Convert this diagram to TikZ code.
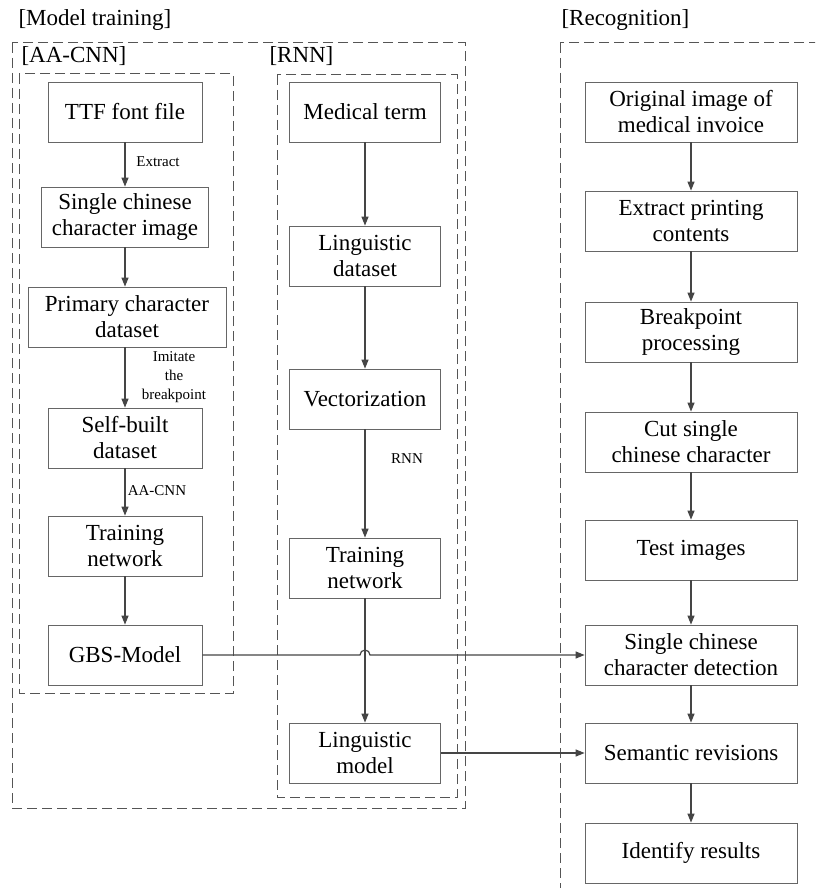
\documentclass[tikz,border=0pt]{standalone}
\usepackage{fontspec}
\setmainfont{Liberation Serif}
\usetikzlibrary{arrows.meta}
\definecolor{boxgray}{HTML}{666666}
\definecolor{dashgray}{HTML}{555555}
\definecolor{arrgray}{HTML}{454545}
\begin{document}
\begin{tikzpicture}[x=1pt,y=-1pt,
 box/.style={draw=boxgray, line width=0.8pt, minimum height=60pt, align=center, font=\fontsize{23}{26}\selectfont, inner sep=2pt},
 grp/.style={draw=dashgray, dash pattern=on 10pt off 5pt, line width=1pt},
 arr/.style={draw=arrgray, line width=1.2pt, -{Triangle[length=9pt,width=7pt]}},
 lbl/.style={font=\fontsize{15}{19}\selectfont, align=center, text=black},
 hdr/.style={font=\fontsize{23}{24}\selectfont, anchor=west}]
\useasboundingbox (0,0) rectangle (815,888);
\clip (0,0) rectangle (815,888);
% groups
\draw[grp] (12,43) rectangle (465,808);
\draw[grp] (19,74) rectangle (233,693);
\draw[grp] (277,75) rectangle (457,797);
\draw[grp] (560,43) rectangle (830,900);
\node[hdr] (hmt) at (15,20) {[Model training]};
\node[hdr] (hrec) at (558,20) {[Recognition]};
\node[hdr] (haa) at (18,56) {[AA-CNN]};
\node[hdr] (hrnn) at (266,56) {[RNN]};
% left column
\node[box, minimum width=154pt] (ttf) at (125,112) {TTF font file};
\node[box, minimum width=167pt] (single) at (125,217) {Single chinese\\character image};
\node[box, minimum width=198pt] (prim) at (127,317) {Primary character\\dataset};
\node[box, minimum width=154pt] (self) at (125,438) {Self-built\\dataset};
\node[box, minimum width=154pt] (trl) at (125,546) {Training\\network};
\node[box, minimum width=154pt] (gbs) at (125,655) {GBS-Model};
% middle column
\node[box, minimum width=151pt] (med) at (365,112) {Medical term};
\node[box, minimum width=151pt] (lds) at (365,256) {Linguistic\\dataset};
\node[box, minimum width=151pt] (vec) at (365,399) {Vectorization};
\node[box, minimum width=151pt] (trr) at (365,568) {Training\\network};
\node[box, minimum width=151pt] (lmod) at (365,753) {Linguistic\\model};
% right column
\node[box, minimum width=212pt] (orig) at (691,112) {Original image of\\medical invoice};
\node[box, minimum width=212pt] (extr) at (691,221) {Extract printing\\contents};
\node[box, minimum width=212pt] (brk) at (691,332) {Breakpoint\\processing};
\node[box, minimum width=212pt] (cut) at (691,442) {Cut single\\chinese character};
\node[box, minimum width=212pt] (test) at (691,550) {Test images};
\node[box, minimum width=212pt] (det) at (691,655) {Single chinese\\character detection};
\node[box, minimum width=212pt] (sem) at (691,753) {Semantic revisions};
\node[box, minimum width=212pt] (idr) at (691,853) {Identify results};
% arrows left
\draw[arr] (ttf) -- (single);
\draw[arr] (single) -- (prim.north -| single);
\draw[arr] (prim.south -| ttf) -- (self);
\draw[arr] (self) -- (trl);
\draw[arr] (trl) -- (gbs);
\node[lbl] (lex) at (158,162) {Extract};
\node[lbl] (lim) at (174,377) {Imitate\\the\\breakpoint};
\node[lbl] (laa) at (157,491) {AA-CNN};
% arrows middle
\draw[arr] (med) -- (lds);
\draw[arr] (lds) -- (vec);
\draw[arr] (vec) -- (trr);
\draw[arr] (trr) -- (lmod);
\node[lbl] (lrnn) at (407,459) {RNN};
% arrows right
\draw[arr] (orig) -- (extr);
\draw[arr] (extr) -- (brk);
\draw[arr] (brk) -- (cut);
\draw[arr] (cut) -- (test);
\draw[arr] (test) -- (det);
\draw[arr] (det) -- (sem);
\draw[arr] (sem) -- (idr);
% cross connectors
\coordinate (hop) at (360,655);
\draw[arr] (gbs.east) -- (hop) arc[start angle=180, end angle=0, radius=5pt] -- (det.west);
\draw[arr] (lmod.east) -- (sem.west);
\end{tikzpicture}
\end{document}
